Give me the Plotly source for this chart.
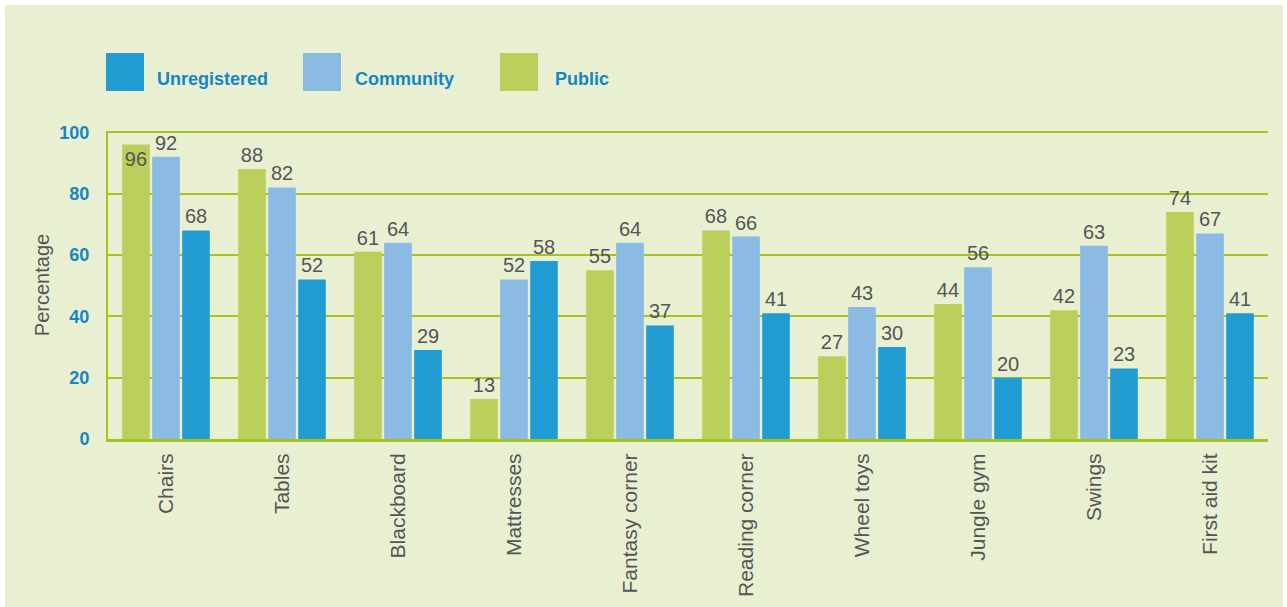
import plotly.graph_objects as go

categories = ["Chairs", "Tables", "Blackboard", "Mattresses", "Fantasy corner",
              "Reading corner", "Wheel toys", "Jungle gym", "Swings", "First aid kit"]
public = [96, 88, 61, 13, 55, 68, 27, 44, 42, 74]
community = [92, 82, 64, 52, 64, 66, 43, 56, 63, 67]
unregistered = [68, 52, 29, 58, 37, 41, 30, 20, 23, 41]
y_ticks = [0, 20, 40, 60, 80, 100]

C_PUB = "#BBCF5C"
C_COM = "#8BBBE3"
C_UNR = "#219CD3"
BG = "#E9F0D2"
GRID = "#A6C41E"
LBL = "#555555"
BLUE_TXT = "#1485C8"

W, H = 1287, 607
ML, MR, MT, MB = 108, 19, 131, 168
PW, PH = W - ML - MR, H - MT - MB


def px(x):
    return (x - ML) / PW


def py(y):
    return (H - MB - y) / PH


def positions(vals):
    return ["inside" if v > 93 else "outside" for v in vals]


fig = go.Figure()
for name, vals, col in [("Public", public, C_PUB), ("Community", community, C_COM),
                        ("Unregistered", unregistered, C_UNR)]:
    fig.add_trace(go.Bar(
        x=categories, y=vals, name=name, marker=dict(color=col, line=dict(width=0)),
        text=[str(v) for v in vals], textposition=positions(vals),
        insidetextanchor="end", textangle=0,
        textfont=dict(family="Liberation Sans, Arial", size=20, color=LBL),
        insidetextfont=dict(family="Liberation Sans, Arial", size=20, color=LBL),
        outsidetextfont=dict(family="Liberation Sans, Arial", size=20, color=LBL),
        cliponaxis=False, showlegend=False,
    ))

shapes = [dict(type="rect", xref="paper", yref="paper", layer="below",
               x0=px(5), x1=px(1283), y0=py(607), y1=py(5),
               fillcolor=BG, line=dict(width=0))]
annotations = []
legend_items = [("Unregistered", C_UNR, 106, 155), ("Community", C_COM, 303, 353),
                ("Public", C_PUB, 500, 553)]
for name, col, sx, tx in legend_items:
    shapes.append(dict(type="rect", xref="paper", yref="paper",
                       x0=px(sx), x1=px(sx + 38), y0=py(91), y1=py(53),
                       fillcolor=col, line=dict(width=0)))
    annotations.append(dict(text=name, xref="paper", yref="paper", x=px(tx), y=py(79),
                            xanchor="left", yanchor="middle", showarrow=False,
                            font=dict(family="Liberation Sans Narrow, Arial Narrow, Arial",
                                      size=18, color=BLUE_TXT, weight="bold")))

fig.update_layout(
    width=W, height=H,
    margin=dict(l=ML, r=MR, t=MT, b=MB, pad=0),
    paper_bgcolor="white", plot_bgcolor=BG,
    barmode="group", bargap=0.224, bargroupgap=0.08,
    uniformtext=dict(minsize=20, mode="show"),
    shapes=shapes, annotations=annotations,
    xaxis=dict(showline=True, linecolor=GRID, linewidth=3, showgrid=False,
               tickangle=-90, ticks="", ticklabelstandoff=3, automargin=False,
               tickfont=dict(family="Liberation Sans, Arial", size=21, color=LBL)),
    yaxis=dict(range=[0, 100.4], tickvals=y_ticks, showline=True, linecolor=GRID,
               linewidth=2, showgrid=True, gridcolor=GRID, gridwidth=2, zeroline=False,
               ticks="", ticklabelstandoff=13, automargin=False,
               tickfont=dict(family="Liberation Sans, Arial", size=18, color=BLUE_TXT,
                             weight="bold"),
               title=dict(text="Percentage", standoff=4,
                          font=dict(family="Liberation Sans, Arial", size=20, color=LBL))),
)

fig.write_html("out.html")
